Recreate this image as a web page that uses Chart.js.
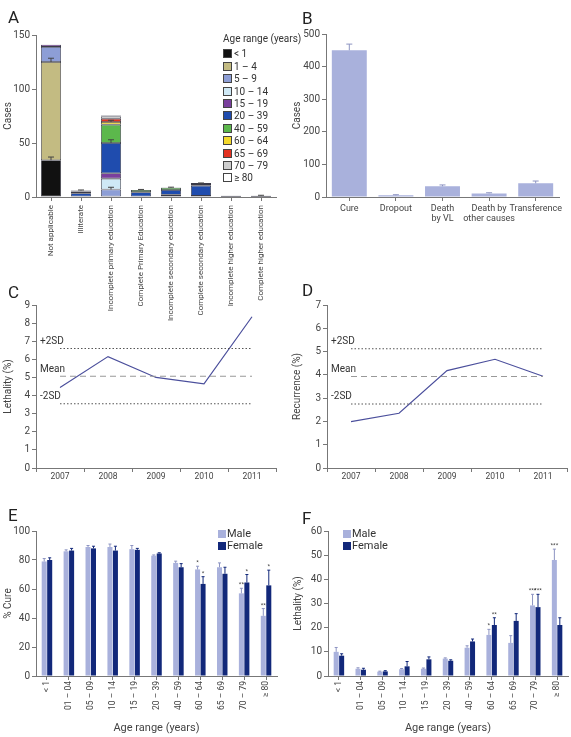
<!DOCTYPE html>
<html>
<head>
<meta charset="utf-8">
<script src="https://cdn.jsdelivr.net/npm/chart.js@4.4.1/dist/chart.umd.min.js"></script>
<style>
body{margin:0;background:#fff;font-family:Roboto,sans-serif;}
#page{position:relative;width:571px;height:737px;overflow:hidden;}
.panel{position:absolute;}
.letter{position:absolute;font-size:17px;line-height:17px;color:#222;}
.lg{position:absolute;color:#333;white-space:nowrap;}
.lg div{height:12.4px;line-height:12.4px;font-size:10px;}
.box{display:inline-block;width:7px;height:7px;border:1px solid #444;margin-right:2px;vertical-align:-1px;}
.lg2 div{height:12px;line-height:12px;font-size:11px;}
.lg2 .box{width:8px;height:8px;border:none;margin-right:1px;}
</style>
</head>
<body>
<div id="page">
  <canvas class="panel" id="chartA" width="290" height="330" style="left:0;top:0"></canvas>
  <canvas class="panel" id="chartB" width="291" height="240" style="left:280px;top:0"></canvas>
  <canvas class="panel" id="chartC" width="290" height="205" style="left:0;top:280px"></canvas>
  <canvas class="panel" id="chartD" width="291" height="205" style="left:280px;top:280px"></canvas>
  <canvas class="panel" id="chartE" width="290" height="237" style="left:0;top:500px"></canvas>
  <canvas class="panel" id="chartF" width="291" height="237" style="left:280px;top:500px"></canvas>
  <div class="letter" style="left:8px;top:9px">A</div>
  <div class="letter" style="left:302px;top:10px">B</div>
  <div class="letter" style="left:8px;top:284px">C</div>
  <div class="letter" style="left:302px;top:282px">D</div>
  <div class="letter" style="left:8px;top:507px">E</div>
  <div class="letter" style="left:302px;top:510px">F</div>
  <div class="lg" id="legendA" style="left:223px;top:33px"></div>
  <div class="lg lg2" id="legendE" style="left:218px;top:528px"></div>
  <div class="lg lg2" id="legendF" style="left:343px;top:528px"></div>
</div>
<script>
// ---- Panel A: cases by education and age range ----
var eduLabels = ['Not applicable', 'Illiterate', 'Incomplete primary education', 'Complete Primary Education',
  'Incomplete secondary education', 'Complete secondary education', 'Incomplete higher education', 'Complete higher education'];
var ageNames = ['< 1', '1 – 4', '5 – 9', '10 – 14', '15 – 19', '20 – 39', '40 – 59', '60 – 64', '65 – 69', '70 – 79', '≥ 80'];
var ageColors = ['#111111', '#c3bb82', '#8d9ed6', '#cfe9f6', '#7a3f9d', '#1f4cae', '#5cb84c', '#f4d92c', '#e43221', '#cdcdcd', '#ffffff'];
var casesLt1    = [34, 0, 0, 0, 0, 0, 0, 0];
var cases1to4   = [91, 0, 0, 0, 0, 0, 0, 0];
var cases5to9   = [14, 0, 7, 0, 0, 0, 0, 0];
var cases10to14 = [0, 0, 10, 0, 0, 0, 0, 0];
var cases15to19 = [2, 0.5, 5, 0.5, 2, 1, 0, 0];
var cases20to39 = [0, 3, 28, 4, 4.5, 9.5, 0.3, 0.3];
var cases40to59 = [0, 1.5, 17, 2, 2, 1.5, 0.8, 0.8];
var cases60to64 = [0, 1, 2.5, 0, 0.3, 1, 0, 0];
var cases65to69 = [0, 0, 3, 0, 0, 0, 0, 0];
var cases70to79 = [0, 0, 2, 0, 0, 0, 0, 0];
var cases80plus = [0, 0, 1, 0, 0, 0, 0, 0];
// error (upper) for some segments
var errLt1    = [3, 0, 0, 0, 0, 0, 0, 0];
var err1to4   = [3.5, 0, 0, 0, 0, 0, 0, 0];
var err5to9   = [0, 0, 2, 0, 0, 0, 0, 0];
var err20to39 = [0, 0, 3, 0, 0, 0, 0, 0];
var err40to59 = [0, 0, 0, 0.5, 0.6, 1, 0, 0.5];
var err60to64 = [0, 0.5, 1.5, 0, 0, 0, 0, 0];

// ---- Panel B: outcomes ----
var outcomeLabels = ['Cure', 'Dropout', ['Death', 'by VL'], ['Death by', 'other causes'], 'Transference'];
var outcomeCases = [450, 5, 33, 11, 42];
var outcomeErr = [19, 2, 4, 2, 7];

// ---- Panels C and D: yearly lethality and recurrence ----
var years = ['2007', '2008', '2009', '2010', '2011'];
var lethality = [4.45, 6.15, 5.0, 4.65, 8.35];
var lethMean = 5.07, lethUp = 6.6, lethDown = 3.55;
var recurrence = [1.99, 2.35, 4.18, 4.67, 3.94];
var recMean = 3.93, recUp = 5.12, recDown = 2.75;

// ---- Panels E and F: by sex and age ----
var ageRanges = ['< 1', '01 – 04', '05 – 09', '10 – 14', '15 – 19', '20 – 39', '40 – 59', '60 – 64', '65 – 69', '70 – 79', '≥ 80'];
var maleCure      = [79, 86, 89, 89, 87.5, 83, 78, 73.5, 75, 57, 41.5];
var femaleCure    = [80, 86.5, 88, 86.5, 87, 84.5, 75, 63.5, 70.5, 64.5, 62.5];
var maleCureErr   = [2, 1, 1, 2, 2.5, 0.5, 1.2, 2.2, 3, 3.5, 5];
var femaleCureErr = [1.5, 1.5, 1.5, 3, 1, 0.5, 2.5, 5, 4.5, 5.5, 10.5];
var maleCureStars   = ['', '', '', '', '', '', '', '*', '', '**', '**'];
var femaleCureStars = ['', '', '', '', '', '', '', '*', '', '*', '*'];
var maleLeth      = [10, 3, 1.8, 2.8, 3, 7.2, 11.7, 17, 13.7, 29.2, 48];
var femaleLeth    = [8.4, 2.6, 1.9, 4, 6.9, 6.3, 14.3, 21.1, 22.8, 28.5, 21.1];
var maleLethErr   = [1.8, 0.4, 0.2, 0.3, 0.3, 0.3, 0.8, 2.3, 3, 4.6, 4.5];
var femaleLethErr = [0.8, 0.6, 0.3, 2, 1, 0.4, 1, 3, 3, 5.3, 3];
var maleLethStars   = ['', '', '', '', '', '', '', '*', '', '***', '***'];
var femaleLethStars = ['', '', '', '', '', '', '', '**', '', '***', ''];

var maleColor = '#a9b1dc';
var femaleColor = '#12287a';

Chart.defaults.font.family = 'Roboto';
Chart.defaults.color = '#444';
Chart.defaults.animation = false;
Chart.defaults.responsive = false;
Chart.defaults.plugins.legend.display = false;
Chart.defaults.plugins.tooltip.enabled = false;

//draws upper error bars and the significance stars
var errorBars = {
  id: 'errorBars',
  afterDatasetsDraw: function(chart) {
    var ctx = chart.ctx;
    var y = chart.scales.y;
    chart.data.datasets.forEach(function(ds, di) {
      if (!ds.err) return;
      var meta = chart.getDatasetMeta(di);
      meta.data.forEach(function(bar, i) {
        var e = ds.err[i];
        if (!e) return;
        var v = y.getValueForPixel(bar.y);
        var yE = y.getPixelForValue(v + e);
        var half = Math.min(bar.width * 0.3, 3);
        ctx.save();
        ctx.strokeStyle = ds.errColor;
        ctx.lineWidth = 1;
        ctx.beginPath();
        ctx.moveTo(bar.x, bar.y);
        ctx.lineTo(bar.x, yE);
        ctx.moveTo(bar.x - half, yE);
        ctx.lineTo(bar.x + half, yE);
        ctx.stroke();
        if (ds.stars && ds.stars[i]) {
          ctx.fillStyle = '#333';
          ctx.font = '6px Roboto';
          ctx.textAlign = 'center';
          ctx.fillText(ds.stars[i], bar.x, yE - 2);
        }
        ctx.restore();
      });
    });
  }
};

//labels of the mean / 2SD reference lines
var refLabels = {
  id: 'refLabels',
  afterDatasetsDraw: function(chart) {
    var ctx = chart.ctx;
    var y = chart.scales.y;
    ctx.save();
    ctx.fillStyle = '#333';
    ctx.font = '10px Roboto';
    ctx.textBaseline = 'bottom';
    chart.data.datasets.forEach(function(ds) {
      if (!ds.refLabel) return;
      ctx.fillText(ds.refLabel, chart.chartArea.left + 4, y.getPixelForValue(ds.data[0]) - 2);
    });
    ctx.restore();
  }
};

function yAxis(min, max, step, title, width, titleLeft) {
  return {
    min: min, max: max,
    ticks: {stepSize: step, font: {size: 10}, padding: 2, color: '#444'},
    grid: {drawOnChartArea: false, tickLength: 4, color: '#777'},
    border: {color: '#777'},
    title: {display: true, text: title, font: {size: 10}, color: '#444', padding: {top: titleLeft, bottom: 0}},
    afterFit: function(s) { s.width = width; }
  };
}

function xAxis(height, size, rotate, offsetGrid, pad, title) {
  var ax = {
    offset: true,
    ticks: {font: {size: size}, color: '#444', autoSkip: false, maxRotation: rotate, minRotation: rotate, padding: pad},
    grid: {offset: offsetGrid, drawOnChartArea: false, tickLength: 4, color: '#777'},
    border: {color: '#777'},
    afterFit: function(s) { s.height = height; }
  };
  if (title) {
    ax.title = {display: true, text: title, font: {size: 11}, color: '#444', padding: {top: 0, bottom: 2}};
  }
  return ax;
}

// Panel A
var agesA = [casesLt1, cases1to4, cases5to9, cases10to14, cases15to19, cases20to39, cases40to59,
  cases60to64, cases65to69, cases70to79, cases80plus];
var errsA = [errLt1, err1to4, err5to9, null, null, err20to39, err40to59, err60to64, null, null, null];
var dsA = agesA.map(function(arr, k) {
  return {
    label: ageNames[k], data: arr, backgroundColor: ageColors[k],
    borderColor: '#3b3b48', borderWidth: 0.8, borderSkipped: false,
    barPercentage: 0.67, categoryPercentage: 1,
    err: errsA[k], errColor: '#444'
  };
});
var sA = {x: xAxis(133, 8, 90, false, 4), y: yAxis(0, 150, 50, 'Cases', 36, 2)};
sA.x.stacked = true;
sA.y.stacked = true;
new Chart(document.getElementById('chartA'), {
  type: 'bar',
  data: {labels: eduLabels, datasets: dsA},
  options: {layout: {padding: {top: 35, right: 14}}, scales: sA},
  plugins: [errorBars]
});
var lgA = '<div style="margin-bottom:3px">Age range (years)</div>';
ageNames.forEach(function(n, k) {
  lgA += '<div><span class="box" style="background:' + ageColors[k] + '"></span>' + n + '</div>';
});
document.getElementById('legendA').innerHTML = lgA;

// Panel B
new Chart(document.getElementById('chartB'), {
  type: 'bar',
  data: {labels: outcomeLabels, datasets: [{
    data: outcomeCases, backgroundColor: maleColor, barPercentage: 0.75, categoryPercentage: 1,
    err: outcomeErr, errColor: '#8d94c2'
  }]},
  options: {layout: {padding: {top: 34, right: 12}},
    scales: {x: xAxis(43, 9, 0, false, 2), y: yAxis(0, 500, 100, 'Cases', 46, 11)}},
  plugins: [errorBars]
});

// Panels C and D
function trendChart(id, values, mean, up, down, max, title, yWidth, right, titleLeft) {
  function ref(v, dash, color, lbl) {
    return {data: years.map(function() { return v; }), borderColor: color, borderWidth: 1.1,
      borderDash: dash, pointRadius: 0, refLabel: lbl};
  }
  new Chart(document.getElementById(id), {
    type: 'line',
    data: {labels: years, datasets: [
      ref(up, [1.5, 2], '#555', '+2SD'),
      ref(mean, [6, 4], '#999', 'Mean'),
      ref(down, [1.5, 2], '#555', '-2SD'),
      {data: values, borderColor: '#4b4f9c', borderWidth: 1.2, pointRadius: 0, tension: 0}
    ]},
    options: {layout: {padding: {top: 25, right: right}},
      scales: {x: xAxis(17, 8.5, 0, true, 0), y: yAxis(0, max, 1, title, yWidth, titleLeft)}},
    plugins: [refLabels]
  });
}
trendChart('chartC', lethality, lethMean, lethUp, lethDown, 9, 'Lethality (%)', 36, 14, 2);
trendChart('chartD', recurrence, recMean, recUp, recDown, 7, 'Recurrence (%)', 47, 4, 11);

// Panels E and F
function sexChart(id, male, female, mErr, fErr, mStars, fStars, max, step, title, yWidth, right, titleLeft) {
  new Chart(document.getElementById(id), {
    type: 'bar',
    data: {labels: ageRanges, datasets: [
      {label: 'Male', data: male, backgroundColor: maleColor, err: mErr, stars: mStars, errColor: '#8d94c2',
        barPercentage: 0.92, categoryPercentage: 0.5},
      {label: 'Female', data: female, backgroundColor: femaleColor, err: fErr, stars: fStars, errColor: femaleColor,
        barPercentage: 0.92, categoryPercentage: 0.5}
    ]},
    options: {layout: {padding: {top: 31, right: right}},
      scales: {x: xAxis(61, 8.5, 90, false, 1, 'Age range (years)'), y: yAxis(0, max, step, title, yWidth, titleLeft)}},
    plugins: [errorBars]
  });
}
sexChart('chartE', maleCure, femaleCure, maleCureErr, femaleCureErr, maleCureStars, femaleCureStars,
  100, 20, '% Cure', 36, 13, 2);
sexChart('chartF', maleLeth, femaleLeth, maleLethErr, femaleLethErr, maleLethStars, femaleLethStars,
  60, 10, 'Lethality (%)', 48, 3, 12);

var lgSex = '<div><span class="box" style="background:' + maleColor + '"></span>Male</div>' +
  '<div><span class="box" style="background:' + femaleColor + '"></span>Female</div>';
document.getElementById('legendE').innerHTML = lgSex;
document.getElementById('legendF').innerHTML = lgSex;
</script>
</body>
</html>
